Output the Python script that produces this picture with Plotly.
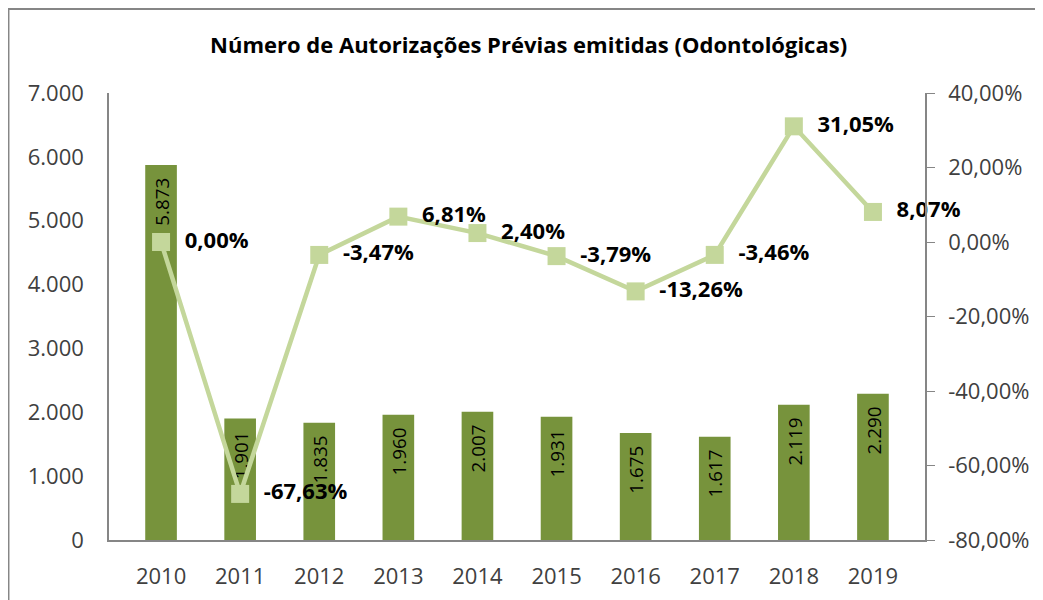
import plotly.graph_objects as go

anos = ["2010", "2011", "2012", "2013", "2014", "2015", "2016", "2017", "2018", "2019"]
autorizacoes = [5873, 1901, 1835, 1960, 2007, 1931, 1675, 1617, 2119, 2290]
variacao = [0.00, -67.63, -3.47, 6.81, 2.40, -3.79, -13.26, -3.46, 31.05, 8.07]

# eixo secundário (percentual)
pct_ticks = [-80, -60, -40, -20, 0, 20, 40]
pct_labels = ["-80,00%", "-60,00%", "-40,00%", "-20,00%", "0,00%", "20,00%", "40,00%"]

fonte = "Open Sans"
cinza = "#404040"
esp = "\u00a0\u00a0"

fig = go.Figure()

fig.add_trace(go.Bar(
    x=anos,
    y=autorizacoes,
    marker=dict(color="#77933c", line=dict(width=0)),
    texttemplate="%{y:,d}" + esp,
    textposition="inside",
    insidetextanchor="end",
    textangle=-90,
    textfont=dict(family=fonte, size=22, color="#000000"),
    name="Autorizações"
))

fig.add_trace(go.Scatter(
    x=anos,
    y=variacao,
    yaxis="y2",
    mode="lines+markers+text",
    line=dict(color="#c4d79b", width=4.5),
    marker=dict(symbol="square", size=18, color="#c4d79b"),
    text=[esp + f"{v:.2f}".replace(".", ",") + "%" for v in variacao],
    textposition="middle right",
    textfont=dict(family=fonte, size=22, color="#000000", weight="bold"),
    cliponaxis=False,
    name="Variação"
))

# a página tem 8px de margem no body, por isso 1035x592
fig.update_layout(
    width=1035,
    height=592,
    separators=",.",
    showlegend=False,
    plot_bgcolor="white",
    paper_bgcolor="white",
    margin=dict(l=101, r=118, t=85, b=60),
    bargap=0.6,
    title=dict(
        text="<b>Número de Autorizações Prévias emitidas (Odontológicas)</b>",
        x=0.503, xref="container", xanchor="center",
        y=0.9375, yanchor="middle",
        font=dict(family=fonte, size=22, color="#000000")
    ),
    xaxis=dict(
        showline=True, linecolor="#868686", linewidth=1.5,
        ticks="", showgrid=False, automargin=False,
        tickfont=dict(family=fonte, size=22, color=cinza),
        ticklabelstandoff=16
    ),
    yaxis=dict(
        range=[0, 7000], dtick=1000, tickformat=",d",
        showline=True, linecolor="#868686", linewidth=1.5,
        ticks="", showgrid=False, zeroline=False, automargin=False,
        tickfont=dict(family=fonte, size=22, color=cinza),
        ticklabelstandoff=19
    ),
    yaxis2=dict(
        overlaying="y", side="right",
        range=[-80, 40], tickvals=pct_ticks, ticktext=pct_labels,
        showline=True, linecolor="#868686", linewidth=1.5,
        ticks="outside", ticklen=8, tickcolor="#868686",
        showgrid=False, zeroline=False, automargin=False,
        tickfont=dict(family=fonte, size=22, color=cinza),
        ticklabelstandoff=9
    ),
    shapes=[dict(
        type="rect", xref="paper", yref="paper",
        x0=-0.1232, x1=1.3, y0=-0.3, y1=1.188,
        line=dict(color="#868686", width=2), fillcolor="rgba(0,0,0,0)"
    )]
)

fig.write_html("out.html")
